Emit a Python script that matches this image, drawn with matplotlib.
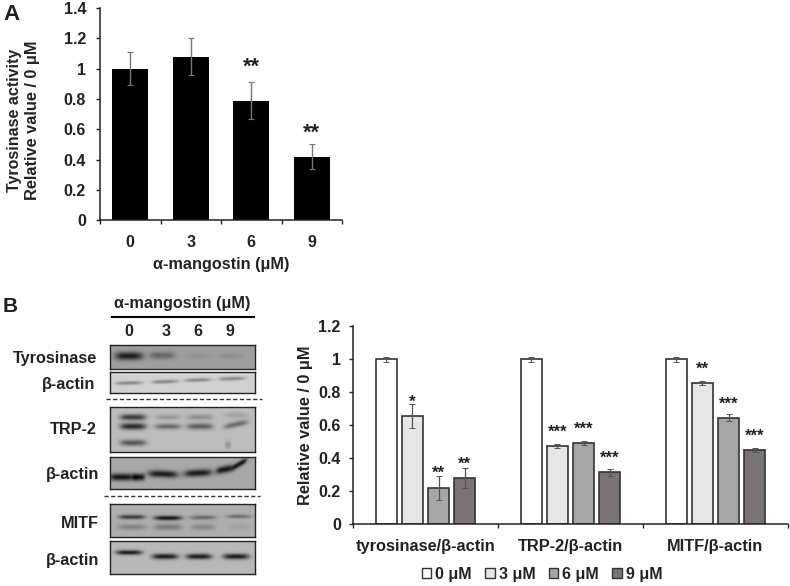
import numpy as np
import matplotlib
matplotlib.use("Agg")
import matplotlib.pyplot as plt
from matplotlib.patches import Patch

W, H = 790, 586
plt.rcParams['font.family'] = ['Liberation Sans', 'DejaVu Sans']
plt.rcParams['font.weight'] = 'bold'
TXT = '#222222'

# Panel A data
a_doses = ['0', '3', '6', '9']
a_values = [1.0, 1.08, 0.79, 0.42]
a_errors = [0.11, 0.12, 0.125, 0.083]
a_stars = ['', '', '**', '**']
a_star_y = [None, None, 1.035, 0.605]
a_yticks = [0, 0.2, 0.4, 0.6, 0.8, 1, 1.2, 1.4]

# Panel B chart data
b_groups = ['tyrosinase/β-actin', 'TRP-2/β-actin', 'MITF/β-actin']
b_series = ['0 μM', '3 μM', '6 μM', '9 μM']
b_colors = ['#ffffff', '#e6e6e6', '#a6a6a6', '#7b7373']
b_values = [[1, 1, 1], [0.655, 0.475, 0.855], [0.22, 0.49, 0.645], [0.28, 0.315, 0.45]]
b_errors = [[0.015, 0.015, 0.015], [0.075, 0.013, 0.013], [0.073, 0.013, 0.02], [0.06, 0.02, 0.013]]
b_stars = [['', '', ''], ['*', '***', '**'], ['**', '***', '***'], ['**', '***', '***']]
b_star_y = [[0, 0, 0], [0.762, 0.58, 0.964], [0.333, 0.60, 0.752], [0.385, 0.423, 0.557]]
b_yticks = [0, 0.2, 0.4, 0.6, 0.8, 1, 1.2]

# Western blots: background grey and bands (x, y, half width, half height, darkness, slope)
blots = [
    ((110, 255, 345, 369), 0.62, [(129, 356, 14, 4, .5, 0), (162, 355.5, 13, 3.6, .22, 0),
                                  (198, 356, 13, 3, .05, 0), (230, 356, 13, 3, .06, 0)]),
    ((110, 255, 372, 393), 0.82, [(129, 383, 13, 1.9, .28, -.03), (165, 381.7, 13, 1.9, .28, -.03),
                                  (198, 380, 13, 1.9, .28, -.03), (232, 378.7, 13, 1.9, .28, -.03)]),
    ((110, 255, 407, 452), 0.74, [(133, 418, 13, 3, .5, 0), (133, 427, 13, 3.2, .58, 0),
                                  (133, 443, 13, 3, .4, 0), (168, 418, 13, 2.6, .14, 0),
                                  (168, 427, 13, 2.6, .34, 0), (200, 418, 13, 2.8, .18, 0),
                                  (200, 427, 13, 3, .38, 0), (236, 416, 12, 2.8, .1, 0),
                                  (236, 425, 12, 2.8, .32, -.2), (228, 445, 3, 4, .15, 0)]),
    ((110, 255, 457, 489), 0.66, [(122, 477.5, 13, 3.4, .58, 0), (139, 477.5, 6, 3.4, .58, 0),
                                  (163, 474.5, 15, 3.4, .56, 0.04), (198, 473.5, 14, 3.4, .56, -.05),
                                  (225, 470, 9, 3.4, .58, -.2), (240, 464.5, 7, 2.8, .58, -.55)]),
    ((110, 255, 504, 537), 0.68, [(132, 517, 13, 2.2, .45, 0), (168, 518, 14, 2.3, .58, 0),
                                  (203, 517.5, 13, 2.2, .26, 0), (239, 516.5, 12, 2, .24, 0),
                                  (132, 527, 14, 3, .17, 0), (168, 527, 14, 3.2, .2, 0),
                                  (203, 527, 12, 3, .15, 0), (239, 527, 11, 3, .05, 0)]),
    ((110, 255, 541, 574), 0.72, [(129, 552.5, 13, 2.4, .6, 0), (165, 556.5, 13, 2.8, .6, 0),
                                  (199, 556.5, 13, 2.8, .6, 0), (236, 556.5, 13, 2.8, .6, 0)]),
]


def new_axes(fig, left, right, top, bottom):
    return fig.add_axes([left / W, 1 - bottom / H, (right - left) / W, (bottom - top) / H])


def put(fig, x, y, s, size=11.7, ha='center', va='center', **kw):
    fig.text(x / W, 1 - y / H, s, fontsize=size, ha=ha, va=va, color=TXT, fontweight='bold', **kw)


def style(ax, ticks, pad):
    for s in ('top', 'right'):
        ax.spines[s].set_visible(False)
    for s in ('left', 'bottom'):
        ax.spines[s].set_linewidth(1.1)
        ax.spines[s].set_color('#222222')
    ax.set_yticks(ticks, [f'{t:g}' for t in ticks])
    ax.tick_params(axis='both', which='major', length=3, width=1, color='#222222', labelcolor=TXT, labelsize=11.5, pad=pad)


fig = plt.figure(figsize=(W / 100, H / 100), dpi=100)

# Panel A
ax = new_axes(fig, 100, 342, 8, 220.3)
x = np.arange(len(a_values))
ax.bar(x, a_values, width=0.59, color='black')
ax.errorbar(x, a_values, yerr=a_errors, fmt='none', ecolor='#777777', elinewidth=1, capsize=2, capthick=0.8)
ax.set_xlim(-0.5, 3.5)
ax.set_ylim(0, 1.4)
style(ax, a_yticks, 7)
ax.set_xticks(np.arange(-0.5, 4), [''] * 5)
ax.set_xticks(x, a_doses, minor=True)
ax.tick_params(axis='x', which='minor', length=0, labelsize=11.5, labelcolor=TXT, pad=10.5)
for xi, s, y in zip(x, a_stars, a_star_y):
    if s:
        ax.annotate(s, (xi, y), xytext=(0, -7), textcoords='offset points', ha='center', va='baseline',
                    fontsize=15.5, color=TXT)
put(fig, 221, 264, 'α-mangostin (μM)')
put(fig, 15, 120, 'Tyrosinase activity', 11.5, rotation=90)
put(fig, 33, 120, 'Relative value / 0 μM', 11.8, rotation=90)
put(fig, 11, 15, 'A', 16)

# Panel B blots
put(fig, 10, 307, 'B', 15)
put(fig, 182, 304, 'α-mangostin (μM)')
fig.add_artist(plt.Line2D([112 / W, 254 / W], [1 - 317 / H] * 2, color='black', lw=1.5))
for lx, lab in zip([129, 166, 198, 230], a_doses):
    put(fig, lx, 332, lab, 11.5)
for (x0, x1, y0, y1), bg, bands in blots:
    bx = new_axes(fig, x0, x1, y0, y1)
    xx, yy = np.meshgrid(np.arange(x0, x1) + .5, np.arange(y0, y1) + .5)
    img = np.full(xx.shape, float(bg))
    for cx, cy, w, h, d, slope in bands:
        img -= d * np.exp(-((xx - cx) / w) ** 4) * np.exp(-((yy - cy - slope * (xx - cx)) / h) ** 2)
    bx.imshow(np.clip(img, 0.05, 1), cmap='gray', vmin=0, vmax=1, aspect='auto', interpolation='bilinear')
    bx.set_xticks([])
    bx.set_yticks([])
    for s in bx.spines.values():
        s.set_linewidth(1)
        s.set_color('#222222')
for lab, lx, ly in [('Tyrosinase', 97, 359), ('β-actin', 95, 384), ('TRP-2', 97, 430),
                    ('β-actin', 99, 475), ('MITF', 99, 523), ('β-actin', 99, 560)]:
    put(fig, lx, ly, lab, ha='right')
for ly, lx0, lx1 in [(399, 106, 262), (496, 104, 260)]:
    fig.add_artist(plt.Line2D([lx0 / W, lx1 / W], [1 - ly / H] * 2, color='#333333', lw=1, ls=(0, (3, 1.8))))

# Panel B chart
ax2 = new_axes(fig, 353, 788, 326, 524.3)
gx = np.arange(len(b_groups))
step, bw = 0.181, 0.145
for i, (vals, errs, col, lab) in enumerate(zip(b_values, b_errors, b_colors, b_series)):
    pos = gx + (i - 1.5) * step
    ax2.bar(pos, vals, width=bw, color=col, edgecolor='#333333', linewidth=1.2, label=lab)
    ax2.errorbar(pos, vals, yerr=errs, fmt='none', ecolor='#555555', elinewidth=0.9, capsize=2, capthick=0.7)
    for p, s, y in zip(pos, b_stars[i], b_star_y[i]):
        if s:
            ax2.annotate(s, (p, y), xytext=(0, -6), textcoords='offset points', ha='center', va='baseline',
                         fontsize=12, color=TXT)
ax2.set_xlim(-0.5, 2.5)
ax2.set_ylim(0, 1.2)
style(ax2, b_yticks, 5.8)
ax2.set_xticks(np.arange(-0.5, 3), [''] * 4)
ax2.set_xticks(gx, b_groups, minor=True)
ax2.tick_params(axis='x', which='minor', length=0, labelsize=11.8, labelcolor=TXT, pad=10.5)
ax2.set_ylabel('Relative value / 0 μM', fontsize=11.8, fontweight='bold', color=TXT, labelpad=4)
handles = [Patch(facecolor=c, edgecolor='#333333', linewidth=1, label=l) for c, l in zip(b_colors, b_series)]
leg = fig.legend(handles=handles, ncol=4, frameon=False, loc='center', bbox_to_anchor=(542 / W, 1 - 574 / H),
                 fontsize=11.5, handlelength=0.6, handleheight=0.6, handletextpad=0.25, columnspacing=0.83,
                 borderpad=0, labelcolor=TXT)

fig.savefig('out.png', dpi=100)
